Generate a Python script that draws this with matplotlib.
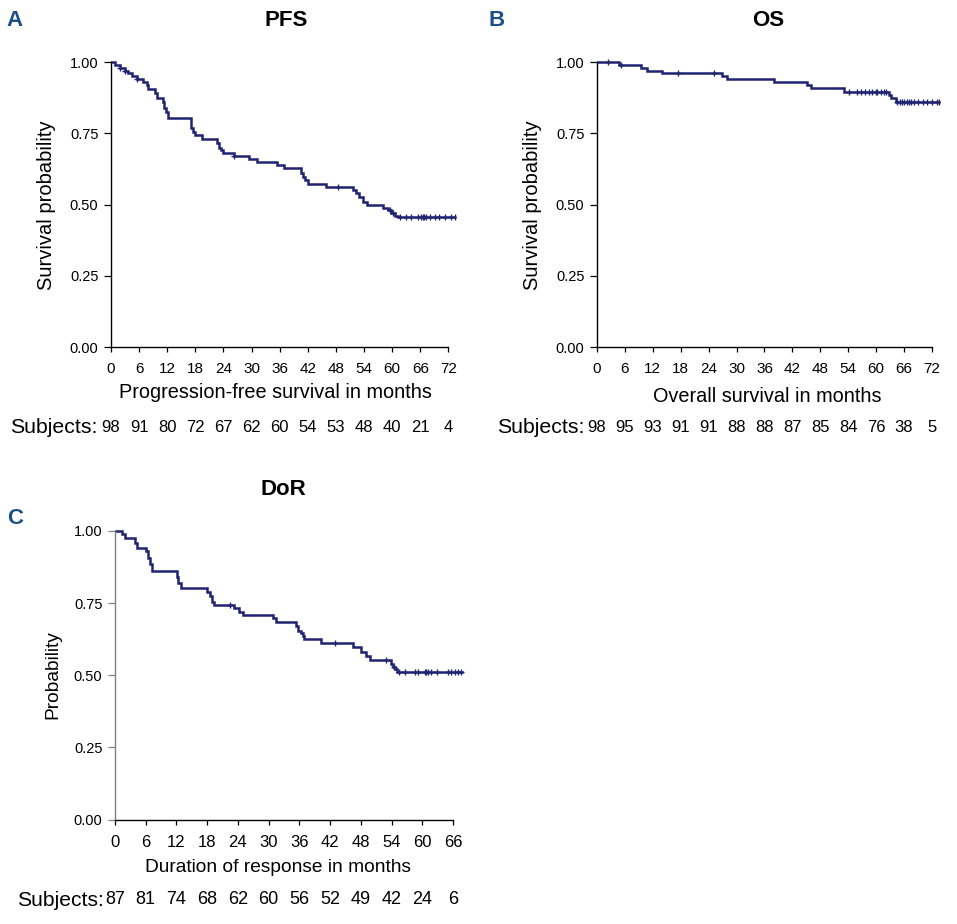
"""Kaplan-Meier panels (PFS / OS / DoR) with numbers-at-risk rows, redrawn."""
import numpy as np
import matplotlib
matplotlib.use("Agg")
import matplotlib.pyplot as plt

plt.rcParams["font.family"] = ["Liberation Sans", "DejaVu Sans"]

W, H = 957, 924
NAVY = "#1f2370"
LETTER = "#1b4d89"

# --- A: progression-free survival (event times in months, survival after step)
pfs_t = [0, 0.9, 1.9, 3.0, 3.7, 4.4, 5.5, 6.9, 7.6, 8.0, 9.4, 9.9, 11.0, 11.4,
         11.8, 12.1, 17.1, 17.5, 18.0, 19.4, 22.6, 23.0, 23.4, 23.8, 26.2, 29.4,
         31.2, 35.5, 36.9, 40.5, 41.0, 41.5, 42.0, 45.9, 51.6, 52.3, 53.0, 53.8,
         54.6, 58.0, 59.1, 59.8, 60.5, 61.2]
pfs_s = [1.00, 0.99, 0.98, 0.97, 0.96, 0.95, 0.94, 0.93, 0.92, 0.905, 0.89, 0.875,
         0.86, 0.84, 0.825, 0.805, 0.77, 0.755, 0.745, 0.73, 0.715, 0.70, 0.69,
         0.68, 0.67, 0.66, 0.648, 0.64, 0.627, 0.61, 0.595, 0.585, 0.573, 0.563,
         0.55, 0.54, 0.525, 0.51, 0.497, 0.487, 0.48, 0.47, 0.46, 0.455]
pfs_end = 73.4
pfs_cens = [1.9, 3.0, 5.5, 26.2, 48.4, 59.5, 60.2, 61.6, 63.0, 64.1, 65.5, 66.2,
            66.6, 66.9, 67.3, 68.0, 69.1, 70.1, 71.2, 72.6, 73.4]
pfs_risk = [98, 91, 80, 72, 67, 62, 60, 54, 53, 48, 40, 21, 4]

# --- B: overall survival
os_t = [0, 4.8, 9.4, 10.7, 13.9, 26.9, 28.0, 38.0, 45.2, 45.9, 53.1, 62.8, 63.2, 64.2]
os_s = [1.00, 0.99, 0.98, 0.97, 0.96, 0.95, 0.94, 0.93, 0.92, 0.91, 0.895, 0.885,
        0.875, 0.86]
os_end = 73.5
os_cens = [2.4, 5.1, 17.5, 25.1, 54.2, 56.0, 56.7, 57.6, 58.5, 59.2, 59.9, 60.3,
           61.0, 61.7, 62.1, 64.6, 65.1, 65.6, 66.1, 66.6, 67.1, 67.6, 68.2, 69.0,
           70.0, 71.0, 72.0, 73.0, 73.5]
os_risk = [98, 95, 93, 91, 91, 88, 88, 87, 85, 84, 76, 38, 5]

# --- C: duration of response
dor_t = [0, 1.3, 2.0, 3.9, 4.3, 6.1, 6.5, 6.9, 7.2, 12.2, 12.4, 12.8, 18.0, 18.5,
         19.0, 19.3, 23.2, 24.2, 24.9, 30.8, 31.4, 35.4, 35.7, 36.3, 36.7, 37.0,
         40.3, 46.5, 48.1, 49.1, 49.8, 53.9, 54.3, 54.7, 55.0]
dor_s = [1.00, 0.99, 0.977, 0.96, 0.942, 0.93, 0.905, 0.885, 0.862, 0.84, 0.82,
         0.803, 0.79, 0.775, 0.755, 0.743, 0.734, 0.72, 0.708, 0.697, 0.685, 0.67,
         0.655, 0.645, 0.635, 0.625, 0.613, 0.598, 0.581, 0.565, 0.552, 0.54,
         0.53, 0.52, 0.511]
dor_end = 67.8
dor_cens = [22.4, 43.0, 52.9, 54.5, 55.5, 56.6, 58.6, 59.2, 60.5, 60.8, 61.2,
            61.8, 62.8, 65.1, 65.7, 66.4, 67.0, 67.5]
dor_risk = [87, 81, 74, 68, 62, 60, 56, 52, 49, 42, 24, 6]


def box(left, top, right, bottom):
    return [left / W, 1 - bottom / H, (right - left) / W, (bottom - top) / H]


def km_panel(ax, t, s, end, cens, xmax, xtick_fs, xpad, yspine="black"):
    t = np.array(t, float); s = np.array(s, float)
    ax.step(np.append(t, end), np.append(s, s[-1]), where="post",
            color=NAVY, lw=1.8, solid_joinstyle="miter")
    c = np.array(cens, float)
    cy = s[np.searchsorted(t, c, side="right") - 1]
    ax.plot(c, cy, ls="none", marker="+", ms=5, mew=1.0, color=NAVY)
    ax.set_xlim(0, end + 0.3)
    ax.set_ylim(0, 1.02)
    ax.set_xticks(np.arange(0, xmax + 1, 6))
    ax.set_yticks([0, 0.25, 0.5, 0.75, 1.0])
    ax.set_yticklabels(["0.00", "0.25", "0.50", "0.75", "1.00"])
    for side in ("top", "right"):
        ax.spines[side].set_visible(False)
    ax.spines["left"].set_bounds(0, 1)
    ax.spines["left"].set_color(yspine)
    ax.spines["bottom"].set_bounds(0, xmax)
    ax.tick_params(axis="y", length=5, width=0.9, pad=4, labelsize=10.5, colors=yspine,
                   labelcolor="black")
    ax.tick_params(axis="x", length=3.5, width=0.9, pad=xpad, labelsize=xtick_fs)
    for sp in ax.spines.values():
        sp.set_linewidth(1.0)


def ftext(x, y, s, **kw):
    fig.text(x / W, 1 - y / H, s, **kw)


def risk_row(ax, y, x_label, counts, fs_lab, fs_num):
    ftext(x_label, y, "Subjects:", fontsize=fs_lab, ha="left", va="center")
    tr = matplotlib.transforms.blended_transform_factory(ax.transData, fig.transFigure)
    for k, n in enumerate(counts):
        ax.text(6 * k, 1 - y / H, str(n), transform=tr, fontsize=fs_num,
                ha="center", va="center", clip_on=False)


fig = plt.figure(figsize=(W / 100, H / 100), dpi=100)

axA = fig.add_axes(box(111, 56.3, 111 + 74 * 4.667, 347))
km_panel(axA, pfs_t, pfs_s, pfs_end, pfs_cens, 72, 11, 7)
axB = fig.add_axes(box(597, 56.3, 597 + 74 * 4.639, 347))
km_panel(axB, os_t, os_s, os_end, os_cens, 72, 11, 7)
axC = fig.add_axes(box(115, 525.2, 115 + 68.5 * 5.091, 819.5))
km_panel(axC, dor_t, dor_s, dor_end, dor_cens, 66, 12, 8, yspine="#808080")

# panel letters and titles
for x, y, letter in [(15, 20, "A"), (497, 20, "B"), (15, 518, "C")]:
    ftext(x, y, letter, fontsize=16, fontweight="bold", color=LETTER, ha="center", va="center")
ftext(286, 20, "PFS", fontsize=16, fontweight="bold", ha="center", va="center")
ftext(768, 20, "OS", fontsize=16, fontweight="bold", ha="center", va="center")
ftext(283, 489, "DoR", fontsize=16, fontweight="bold", ha="center", va="center")

# axis labels
ftext(275, 392, "Progression-free survival in months", fontsize=14.3, ha="center", va="center")
ftext(767, 396, "Overall survival in months", fontsize=14.3, ha="center", va="center")
ftext(278, 868, "Duration of response in months", fontsize=13.8, ha="center", va="center")
ftext(47, 205, "Survival probability", fontsize=14.5, rotation=90, ha="center", va="center")
ftext(533, 205, "Survival probability", fontsize=14.5, rotation=90, ha="center", va="center")
ftext(53, 675, "Probability", fontsize=13.8, rotation=90, ha="center", va="center")

# numbers at risk
risk_row(axA, 427, 10, pfs_risk, 15.3, 12)
risk_row(axB, 427, 497, os_risk, 15.3, 12)
risk_row(axC, 900, 17, dor_risk, 15.2, 13)

fig.savefig("out.png", dpi=100)
